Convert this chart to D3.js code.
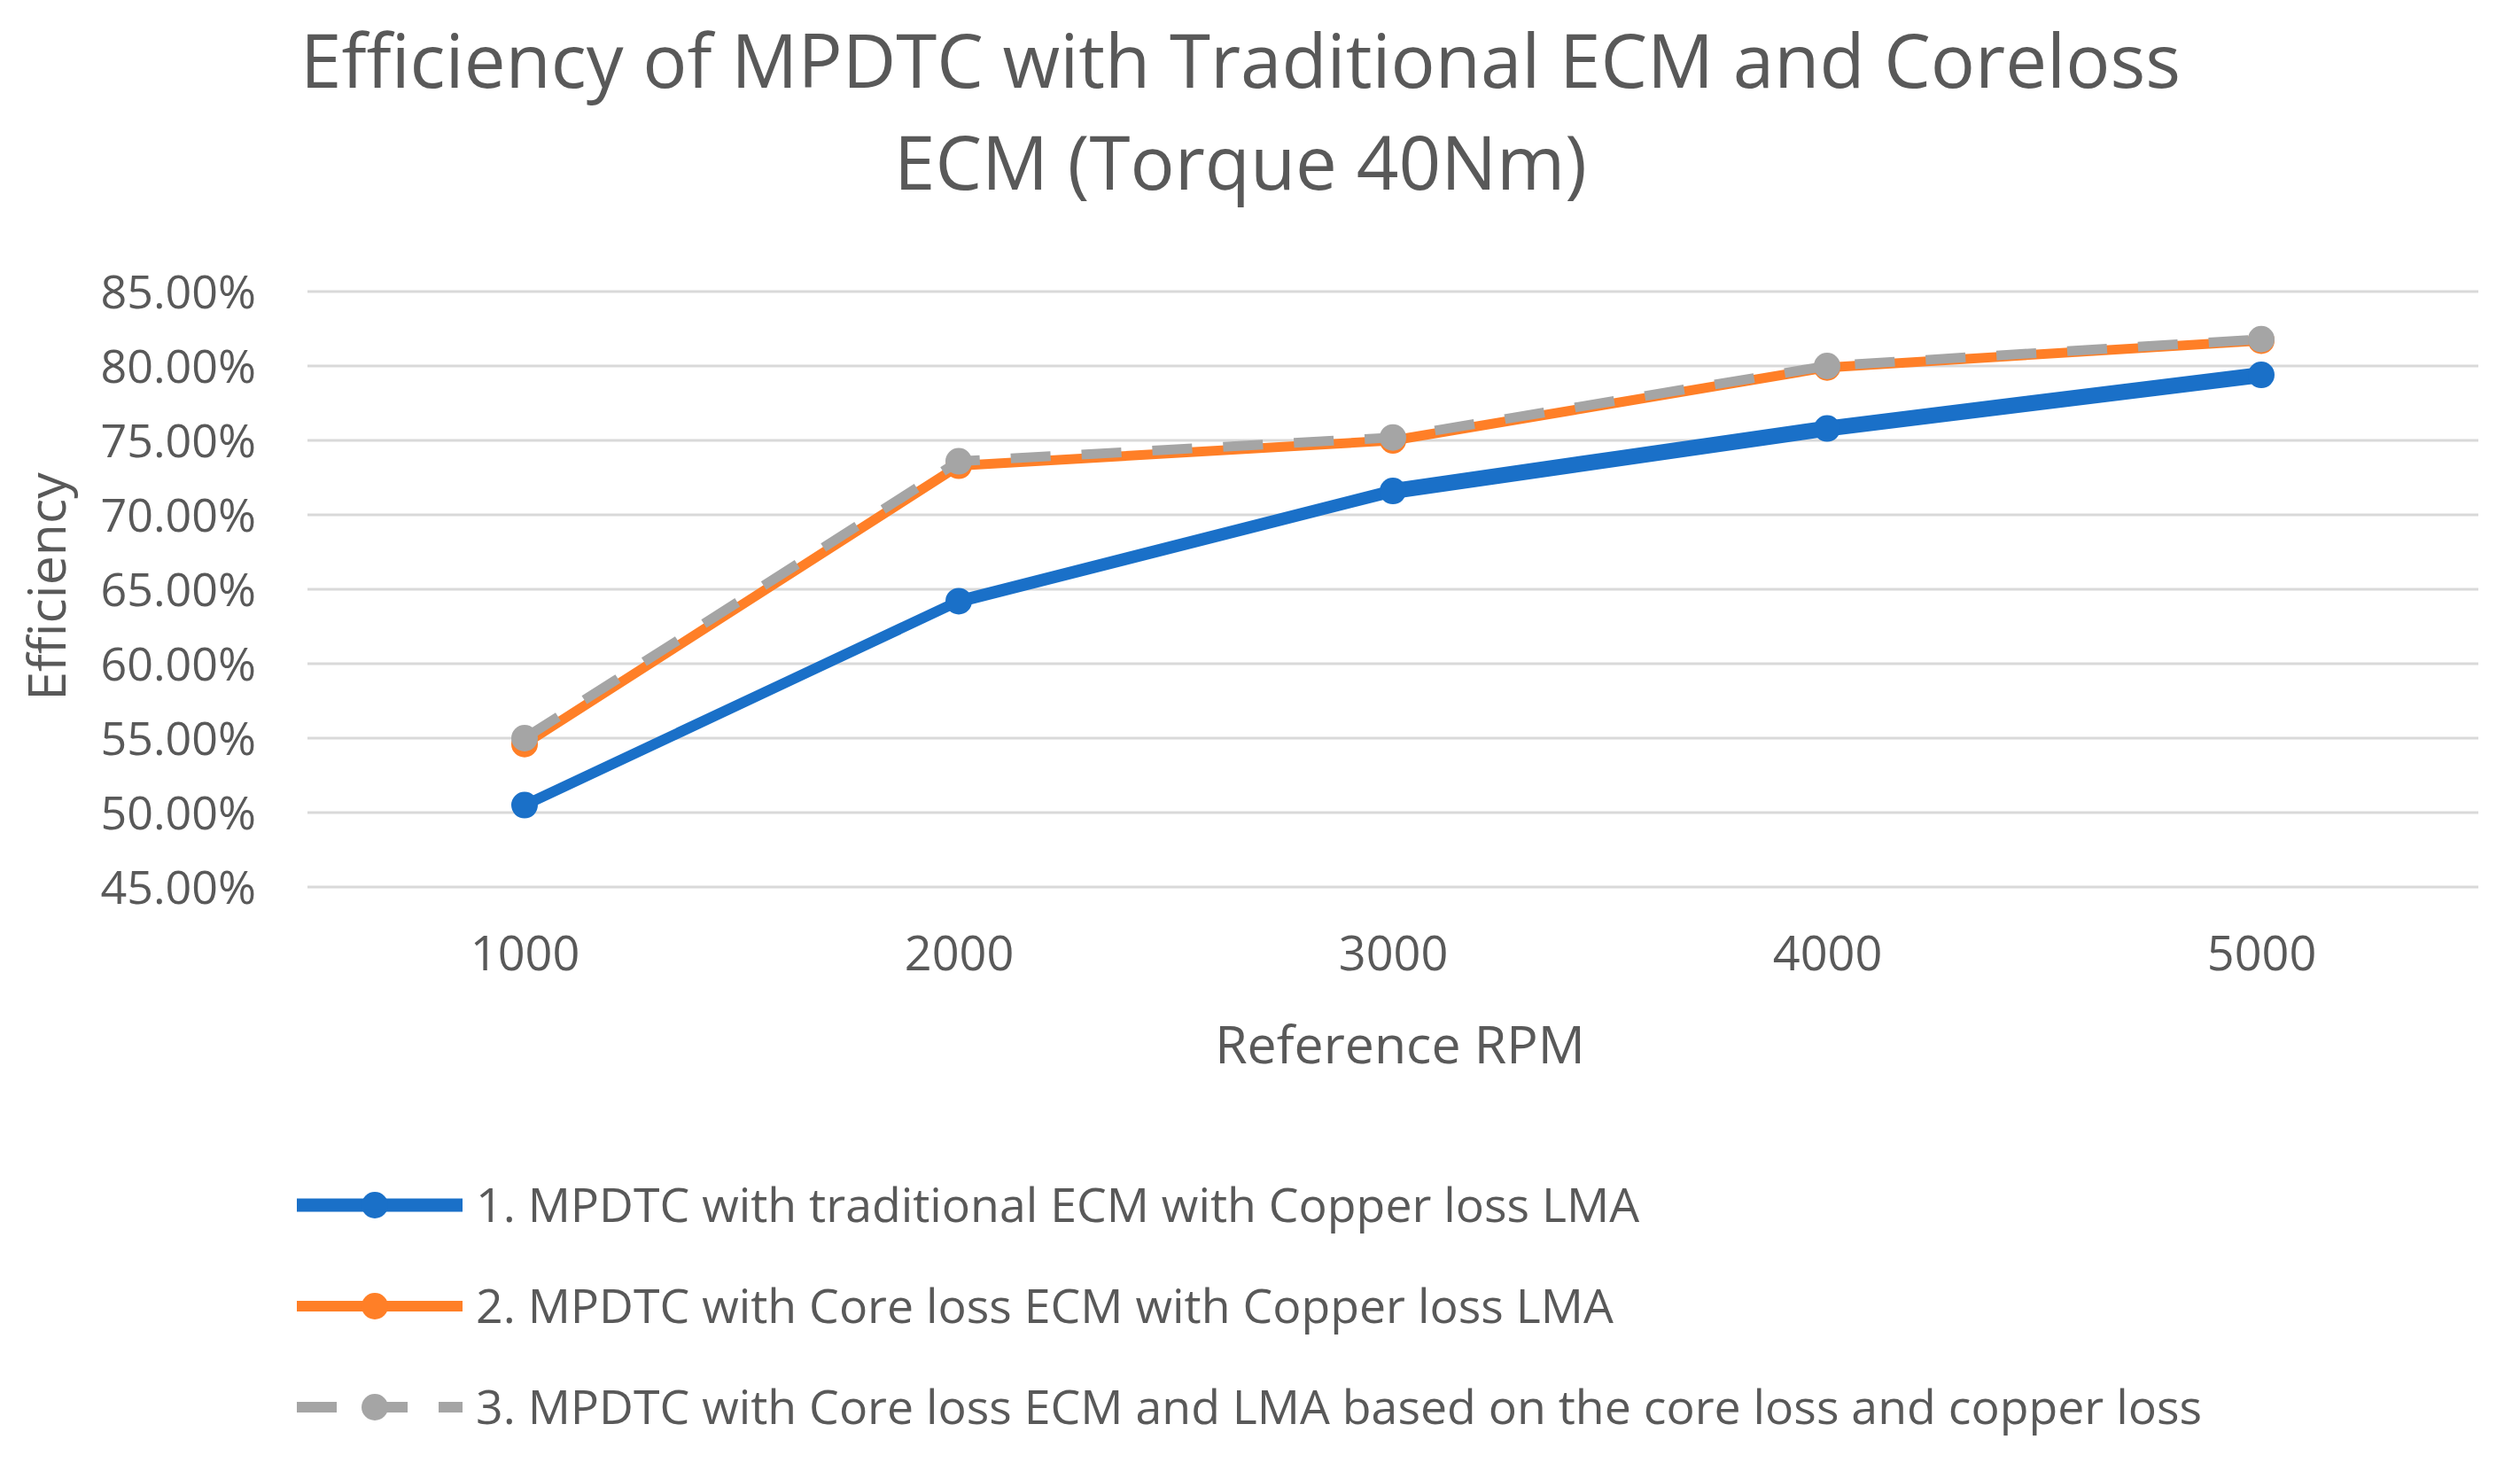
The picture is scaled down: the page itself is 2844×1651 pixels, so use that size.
<!DOCTYPE html>
<html>
<head>
<meta charset="utf-8">
<script src="https://cdn.jsdelivr.net/npm/d3@7"></script>
<style>
  body { margin: 0; background: #fff; }
  text { font-family: "Open Sans", "Noto Sans", sans-serif; fill: #595959; }
</style>
</head>
<body>
<script>
var w = 2844;
var h = 1651;

// data
var rpm = ["1000", "2000", "3000", "4000", "5000"];
var traditionalCopper = [50.5, 64.2, 71.6, 75.8, 79.4];
var corelossCopper = [54.6, 73.3, 75.0, 79.9, 81.7];
var corelossBoth = [55.0, 73.6, 75.2, 80.0, 81.8];
var yTicks = [45, 50, 55, 60, 65, 70, 75, 80, 85];
var seriesNames = [
  "1. MPDTC with traditional ECM with Copper loss LMA",
  "2. MPDTC with Core loss ECM with Copper loss LMA",
  "3. MPDTC with Core loss ECM and LMA based on the core loss and copper loss"
];

var blue = "#1a70c8", orange = "#ff7f27", grey = "#a5a5a5";

var svg = d3.select("body")
  .append("svg")
  .attr("width", w)
  .attr("height", h);

svg.append("rect").attr("width", w).attr("height", h).attr("fill", "#fff");

var x = d3.scalePoint()
  .domain(rpm)
  .range([347, 2797])
  .padding(0.5);

var y = d3.scaleLinear()
  .domain([45, 85])
  .range([1001, 329]);

// title
svg.append("text")
  .attr("x", 1400).attr("y", 99)
  .attr("text-anchor", "middle")
  .attr("font-size", 83.5)
  .text("Efficiency of MPDTC with Traditional ECM and Coreloss");
svg.append("text")
  .attr("x", 1400).attr("y", 214)
  .attr("text-anchor", "middle")
  .attr("font-size", 83.5)
  .text("ECM (Torque 40Nm)");

// gridlines
svg.append("g")
  .selectAll("line")
  .data(yTicks)
  .enter().append("line")
    .attr("x1", x.range()[0])
    .attr("x2", x.range()[1])
    .attr("y1", function(d) { return y(d); })
    .attr("y2", function(d) { return y(d); })
    .attr("stroke", "#d9d9d9")
    .attr("stroke-width", 3);

// y axis labels
var yAxis = svg.append("g")
  .attr("transform", "translate(" + (x.range()[0] - 55) + ",0)")
  .call(d3.axisLeft(y)
    .tickValues(yTicks)
    .tickSize(0)
    .tickFormat(function(d) { return d3.format(".2f")(d) + "%"; }));
yAxis.select(".domain").remove();
yAxis.selectAll("text")
  .attr("font-size", 52)
  .attr("font-family", null)
  .attr("fill", null)
  .attr("dy", "0.36em");

// x axis labels
var xAxis = svg.append("g")
  .attr("transform", "translate(0,1040)")
  .call(d3.axisBottom(x).tickSize(0));
xAxis.select(".domain").remove();
xAxis.selectAll("text")
  .attr("font-size", 54)
  .attr("font-family", null)
  .attr("fill", null)
  .attr("y", 0)
  .attr("dy", "1.02em");

// axis titles
svg.append("text")
  .attr("x", 1580).attr("y", 1200)
  .attr("text-anchor", "middle")
  .attr("font-size", 59)
  .text("Reference RPM");
svg.append("text")
  .attr("transform", "translate(74,662) rotate(-90)")
  .attr("text-anchor", "middle")
  .attr("font-size", 59)
  .text("Efficiency");

var line = d3.line()
  .x(function(d, i) { return x(rpm[i]); })
  .y(function(d) { return y(d); });

// series 1: the blue line gets heavier after 3000 in the original
var blueWidths = [12, 14, 18, 18];
var bluePairs = d3.pairs(traditionalCopper.map(function(v, i) { return {v: v, i: i}; }));
svg.append("g")
  .selectAll("path")
  .data(bluePairs)
  .enter().append("path")
    .attr("d", function(p) {
      return d3.line()
        .x(function(d) { return x(rpm[d.i]); })
        .y(function(d) { return y(d.v); })(p);
    })
    .attr("fill", "none")
    .attr("stroke", blue)
    .attr("stroke-linejoin", "round")
    .attr("stroke-linecap", "round")
    .attr("stroke-width", function(p, i) { return blueWidths[i]; });
svg.append("g")
  .selectAll("circle")
  .data(traditionalCopper)
  .enter().append("circle")
    .attr("cx", function(d, i) { return x(rpm[i]); })
    .attr("cy", function(d) { return y(d); })
    .attr("r", 15)
    .attr("fill", blue);

// series 2
svg.append("path")
  .datum(corelossCopper)
  .attr("d", line)
  .attr("fill", "none")
  .attr("stroke", orange)
  .attr("stroke-width", 11)
  .attr("stroke-linejoin", "round");
svg.append("g")
  .selectAll("circle")
  .data(corelossCopper)
  .enter().append("circle")
    .attr("cx", function(d, i) { return x(rpm[i]); })
    .attr("cy", function(d) { return y(d); })
    .attr("r", 15)
    .attr("fill", orange);

// series 3 (dashed)
svg.append("path")
  .datum(corelossBoth)
  .attr("d", line)
  .attr("fill", "none")
  .attr("stroke", grey)
  .attr("stroke-width", 11)
  .attr("stroke-dasharray", "45,35");
svg.append("g")
  .selectAll("circle")
  .data(corelossBoth)
  .enter().append("circle")
    .attr("cx", function(d, i) { return x(rpm[i]); })
    .attr("cy", function(d) { return y(d); })
    .attr("r", 15)
    .attr("fill", grey);

// legend
var legend = svg.append("g");
var legendStyle = [
  {color: blue, width: 15, dash: null},
  {color: orange, width: 12, dash: null},
  {color: grey, width: 12, dash: "45,35"}
];
var rows = legend.selectAll("g")
  .data(seriesNames)
  .enter().append("g")
    .attr("transform", function(d, i) { return "translate(0," + (1360 + i * 114) + ")"; });
rows.append("line")
  .attr("x1", 335).attr("x2", 522)
  .attr("stroke", function(d, i) { return legendStyle[i].color; })
  .attr("stroke-width", function(d, i) { return legendStyle[i].width; })
  .attr("stroke-dasharray", function(d, i) { return legendStyle[i].dash; });
rows.append("circle")
  .attr("cx", 423)
  .attr("r", 15)
  .attr("fill", function(d, i) { return legendStyle[i].color; });
rows.append("text")
  .attr("x", 537)
  .attr("y", 19)
  .attr("font-size", 53.6)
  .text(function(d) { return d; });
</script>
</body>
</html>
